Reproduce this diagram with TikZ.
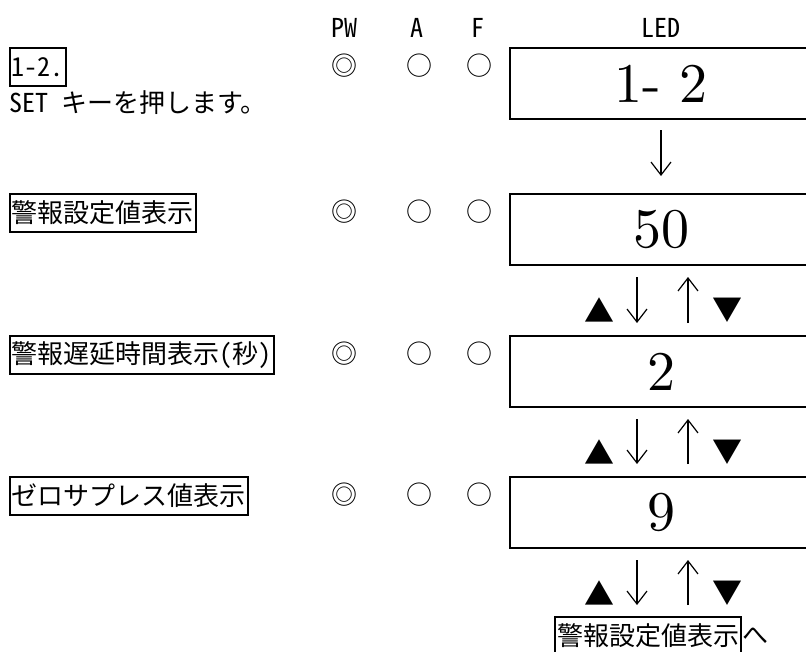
\documentclass[tikz,border=0pt]{standalone}
\usepackage{fontspec}
\usetikzlibrary{positioning, arrows.meta}
\newfontfamily\jpfont[RawFeature=+hwid]{Noto Sans CJK JP}
\newfontfamily\ledfont{lmroman10-regular.otf}

\begin{document}
\begin{tikzpicture}[x = 1pt, y = -1pt,
                >={Straight Barb[length=13pt,width=20pt]},
                jp/.style={font=\jpfont\fontsize{26}{26}\selectfont, inner sep=0pt},
                tag/.style={jp, draw, line width=2pt, inner xsep=2pt, minimum height=38pt, anchor=north west},
                led/.style={draw, line width=2pt, minimum width=302pt, minimum height=71pt, anchor=north west,
                            font=\ledfont\fontsize{56}{56}\selectfont},
                key/.style={font=\jpfont\fontsize{30}{30}\selectfont, inner sep=0pt},
                flow/.style={->, line width=1.2pt}]
            \useasboundingbox (0, 0) rectangle (806, 651);
            \node[jp, anchor=base] (pwhead) at (344.5, 37) {PW};
            \node[jp, anchor=base] (ahead) at (417, 37) {A};
            \node[jp, anchor=base] (fhead) at (478, 37) {F};
            \node[jp, anchor=base] (ledhead) at (661, 37) {LED};
            \node[tag] (step) at (9, 47) {1-2.};
            \node[jp, anchor=west] (setkey) at (9, 103) {SET キーを押します。};
            \node[tag] (alarm) at (9, 193) {警報設定値表示};
            \node[tag] (delay) at (9, 335) {警報遅延時間表示(秒)};
            \node[tag] (zero) at (9, 476) {ゼロサプレス値表示};
            \node[jp] (pw1) at (344.5, 66) {◎};
            \node[jp] (a1) at (419, 66) {○};
            \node[jp] (f1) at (479.5, 66) {○};
            \node[jp] (pw2) at (344.5, 212) {◎};
            \node[jp] (a2) at (419, 212) {○};
            \node[jp] (f2) at (479.5, 212) {○};
            \node[jp] (pw3) at (344.5, 354) {◎};
            \node[jp] (a3) at (419, 354) {○};
            \node[jp] (f3) at (479.5, 354) {○};
            \node[jp] (pw4) at (344.5, 495) {◎};
            \node[jp] (a4) at (419, 495) {○};
            \node[jp] (f4) at (479.5, 495) {○};
            \node[led] (led1) at (509, 47) {1- 2};
            \node[led] (led2) at (509, 193) {50};
            \node[led] (led3) at (509, 335) {2};
            \node[led] (led4) at (509, 476) {9};
            \node[tag] (back) at (554, 616) {警報設定値表示};
            \node[jp, right=0pt of back] (suffix) {へ};
            \draw[flow, shorten <=10pt, shorten >=17pt] (led1) -- (led2);
            \draw[flow, shorten <=11pt, shorten >=12pt] ([xshift=-24pt]led2.south) -- ([xshift=-24pt]led3.north);
            \draw[flow, shorten <=12pt, shorten >=11pt] ([xshift=27pt]led3.north) -- ([xshift=27pt]led2.south);
            \node[key] (up2) at ([xshift=-62pt, yshift=-44pt]led2.south) {▲};
            \node[key] (down2) at ([xshift=66pt, yshift=-44pt]led2.south) {▼};
            \draw[flow, shorten <=11pt, shorten >=12pt] ([xshift=-24pt]led3.south) -- ([xshift=-24pt]led4.north);
            \draw[flow, shorten <=12pt, shorten >=11pt] ([xshift=27pt]led4.north) -- ([xshift=27pt]led3.south);
            \node[key] (up3) at ([xshift=-62pt, yshift=-44pt]led3.south) {▲};
            \node[key] (down3) at ([xshift=66pt, yshift=-44pt]led3.south) {▼};
            \draw[flow, shorten <=11pt, shorten >=11pt] ([xshift=-24pt]led4.south) -- ([xshift=-24pt]led4.south |- back.north);
            \draw[flow, shorten <=11pt, shorten >=11pt] ([xshift=27pt]led4.south |- back.north) -- ([xshift=27pt]led4.south);
            \node[key] (up4) at ([xshift=-62pt, yshift=-44pt]led4.south) {▲};
            \node[key] (down4) at ([xshift=66pt, yshift=-44pt]led4.south) {▼};
        \end{tikzpicture}
\end{document}
